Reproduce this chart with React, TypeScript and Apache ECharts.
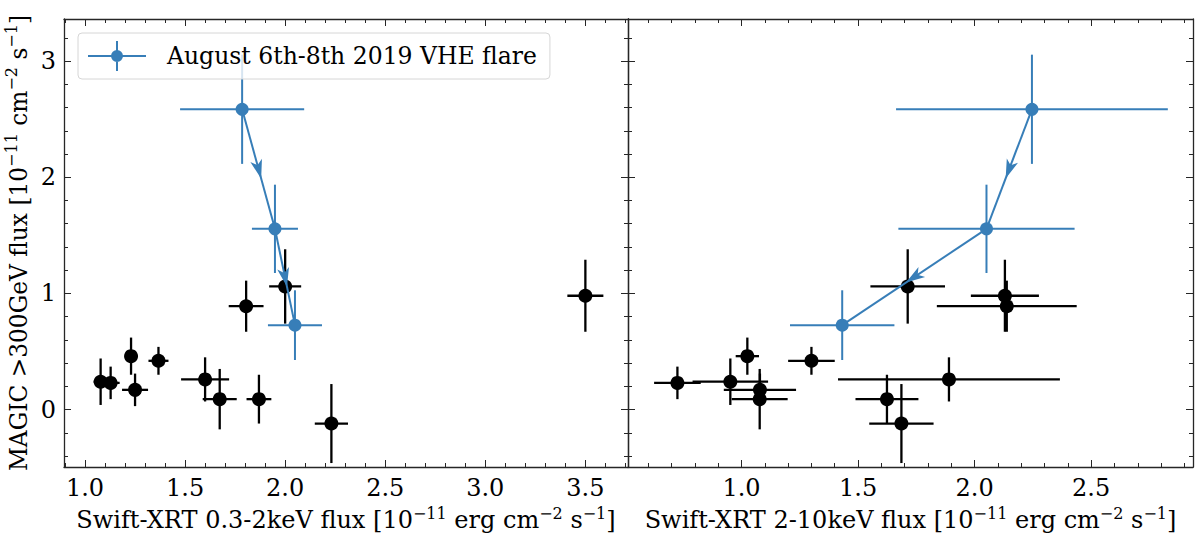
import React, { useEffect, useRef } from 'react';
import * as echarts from 'echarts';

const BLUE = '#377eb8';
const BLACK = '#000000';
const FRAME = '#262626';
const FONT = '"DejaVu Serif", "Liberation Serif", serif';
const FLARE = 'August 6th-8th 2019 VHE flare';

// MAGIC >300GeV flux (shared y of both panels) and its error
const magicFlux = [0.24, 0.23, 0.46, 0.17, 0.42, 0.26, 0.09, 0.89, 0.09, 1.06, -0.12, 0.98];
const magicErr = [0.2, 0.14, 0.16, 0.14, 0.12, 0.19, 0.26, 0.22, 0.21, 0.32, 0.34, 0.31];
// Swift-XRT 0.3-2keV flux
const softFlux = [1.078, 1.128, 1.23, 1.25, 1.367, 1.6, 1.673, 1.805, 1.869, 2.0, 2.231, 3.5];
const softErr = [0.035, 0.045, 0.03, 0.065, 0.05, 0.12, 0.085, 0.087, 0.062, 0.08, 0.083, 0.09];
// Swift-XRT 2-10keV flux
const hardFlux = [0.952, 0.725, 1.025, 1.079, 1.3, 1.89, 1.078, 2.138, 1.624, 1.713, 1.686, 2.13];
const hardErr = [0.162, 0.1, 0.05, 0.155, 0.1, 0.476, 0.12, 0.3, 0.135, 0.16, 0.138, 0.146];

// flare nights, in time order
const flareFlux = [2.585, 1.556, 0.727];
const flareErr = [0.47, 0.38, 0.3];
const flareSoft = [1.785, 1.949, 2.049];
const flareSoftErr = [0.31, 0.115, 0.135];
const flareHard = [2.246, 2.051, 1.432];
const flareHardErr = [0.583, 0.378, 0.224];

// axes
const softRange = [0.895, 3.713];
const hardRange = [0.513, 2.937];
const fluxRange = [-0.494, 3.362];
const softTicks = [1.0, 1.5, 2.0, 2.5, 3.0, 3.5];
const hardTicks = [1.0, 1.5, 2.0, 2.5];
const fluxTicks = [0, 1, 2, 3];

const softTitle = '{t|Swift-XRT 0.3-2keV flux [10}{s|−11}{t|\u00a0erg cm}{s|−2}{t|\u00a0s}{s|−1}{t|]}';
const hardTitle = '{t|Swift-XRT 2-10keV flux [10}{s|−11}{t|\u00a0erg cm}{s|−2}{t|\u00a0s}{s|−1}{t|]}';
const fluxTitle = '{t|MAGIC >300GeV flux [10}{s|−11}{t|\u00a0cm}{s|−2}{t|\u00a0s}{s|−1}{t|]}';

const richOf = (size: number) => ({
  t: { fontFamily: FONT, fontSize: size, color: BLACK, lineHeight: size + 6 },
  s: { fontFamily: FONT, fontSize: Math.round(size * 0.67), color: BLACK, lineHeight: Math.round(size * 0.67), verticalAlign: 'top' },
});

const LEGEND_ICON = 'path://M0,14H58V16H0Z M28,0H30V30H28Z M23,15A6,6,0,1,1,35,15A6,6,0,1,1,23,15Z';

function minorsOf(range: number[], step: number, majors: number[]) {
  const out: number[] = [];
  for (let k = Math.ceil(range[0] / step - 1e-9); k * step <= range[1] + 1e-9; k++) {
    const v = +(k * step).toFixed(3);
    if (!majors.some((m) => Math.abs(m - v) < 1e-6)) out.push(v);
  }
  return out;
}

function axisSet(dim: 'x' | 'y', grid: number, range: number[], majors: number[], minors: number[], labels: boolean, title: string | null, fmt: (v: number) => string) {
  const sides = dim === 'x' ? ['bottom', 'top'] : ['left', 'right'];
  const base = { type: 'value', gridIndex: grid, min: range[0], max: range[1], splitLine: { show: false } };
  const axes: any[] = [];
  sides.forEach((pos, si) => {
    axes.push({
      ...base,
      position: pos,
      axisLine: { show: true, onZero: false, lineStyle: { color: FRAME, width: 1.3 } },
      axisTick: { show: true, inside: true, length: 7, customValues: majors, lineStyle: { color: FRAME, width: 1 } },
      axisLabel: labels && si === 0
        ? { show: true, customValues: majors, formatter: fmt, margin: dim === 'x' ? 9 : 8, fontFamily: FONT, fontSize: 24, color: BLACK }
        : { show: false },
      ...(title && si === 0
        ? {
            name: title,
            nameLocation: 'middle',
            nameGap: dim === 'x' ? 38 : 31,
            nameRotate: dim === 'y' ? 90 : 0,
            nameTextStyle: { rich: richOf(dim === 'x' ? 24 : 23.3) },
          }
        : {}),
    });
    axes.push({
      ...base,
      position: pos,
      axisLine: { show: false, onZero: false },
      axisTick: { show: true, inside: true, length: 4, customValues: minors, lineStyle: { color: FRAME, width: 1 } },
      axisLabel: { show: false },
    });
  });
  return axes;
}

function errorBars(color: string, width: number, radius: number) {
  return (params: any, api: any) => {
    const x = api.value(0);
    const y = api.value(1);
    const ex = api.value(2);
    const ey = api.value(3);
    const c = api.coord([x, y]);
    const l = api.coord([x - ex, y]);
    const r = api.coord([x + ex, y]);
    const t = api.coord([x, y + ey]);
    const b = api.coord([x, y - ey]);
    const style = { stroke: color, lineWidth: width };
    return {
      type: 'group',
      children: [
        { type: 'line', shape: { x1: l[0], y1: l[1], x2: r[0], y2: r[1] }, style },
        { type: 'line', shape: { x1: t[0], y1: t[1], x2: b[0], y2: b[1] }, style },
        { type: 'circle', shape: { cx: c[0], cy: c[1], r: radius }, style: { fill: color } },
      ],
    };
  };
}

function arrowPath(xs: number[], ys: number[]) {
  return (params: any, api: any) => {
    const i = params.dataIndex;
    if (i >= xs.length - 1) return null;
    const p1 = api.coord([xs[i], ys[i]]);
    const p2 = api.coord([xs[i + 1], ys[i + 1]]);
    const dx = p2[0] - p1[0];
    const dy = p2[1] - p1[1];
    const len = Math.hypot(dx, dy);
    const ux = dx / len;
    const uy = dy / len;
    const px = -uy;
    const py = ux;
    const mx = (p1[0] + p2[0]) / 2;
    const my = (p1[1] + p2[1]) / 2;
    const tip = [mx + ux * 10, my + uy * 10];
    const back = [tip[0] - ux * 19, tip[1] - uy * 19];
    const notch = [tip[0] - ux * 14, tip[1] - uy * 14];
    return {
      type: 'group',
      children: [
        { type: 'line', shape: { x1: p1[0], y1: p1[1], x2: p2[0], y2: p2[1] }, style: { stroke: BLUE, lineWidth: 2 } },
        {
          type: 'polygon',
          shape: {
            points: [tip, [back[0] + px * 6, back[1] + py * 6], notch, [back[0] - px * 6, back[1] - py * 6]],
          },
          style: { fill: BLUE },
        },
      ],
    };
  };
}

export default function App() {
  const ref = useRef<HTMLDivElement | null>(null);

  useEffect(() => {
    document.body.style.margin = '0';
    if (!ref.current) return;
    const chart = echarts.init(ref.current, undefined, { renderer: 'svg' });

    const gridTop = 19;
    const gridBottom = 76;
    const xAxes = [
      ...axisSet('x', 0, softRange, softTicks, minorsOf(softRange, 0.1, softTicks), true, softTitle, (v) => v.toFixed(1)),
      ...axisSet('x', 1, hardRange, hardTicks, minorsOf(hardRange, 0.1, hardTicks), true, hardTitle, (v) => v.toFixed(1)),
    ];
    const yAxes = [
      ...axisSet('y', 0, fluxRange, fluxTicks, minorsOf(fluxRange, 0.2, fluxTicks), true, fluxTitle, (v) => String(v)),
      ...axisSet('y', 1, fluxRange, fluxTicks, minorsOf(fluxRange, 0.2, fluxTicks), false, null, (v) => String(v)),
    ];
    // first axis of each grid carries the data (bottom / left major axis)
    const gx = [0, 4];
    const gy = [0, 4];

    const panel = (g: number, xs: number[], xe: number[], fxs: number[], fxe: number[]) => [
      {
        type: 'custom',
        name: 'MAGIC nights',
        xAxisIndex: gx[g],
        yAxisIndex: gy[g],
        clip: false,
        encode: { x: 0, y: 1 },
        data: xs.map((x, i) => [x, magicFlux[i], xe[i], magicErr[i]]),
        renderItem: errorBars(BLACK, 2.3, 7),
        itemStyle: { color: BLACK },
        z: 2,
      },
      {
        type: 'custom',
        name: FLARE + ' path',
        xAxisIndex: gx[g],
        yAxisIndex: gy[g],
        clip: false,
        encode: { x: 0, y: 1 },
        data: fxs.map((x, i) => [x, flareFlux[i]]),
        renderItem: arrowPath(fxs, flareFlux),
        itemStyle: { color: BLUE },
        z: 3,
      },
      {
        type: 'custom',
        name: FLARE,
        xAxisIndex: gx[g],
        yAxisIndex: gy[g],
        clip: false,
        encode: { x: 0, y: 1 },
        data: fxs.map((x, i) => [x, flareFlux[i], fxe[i], flareErr[i]]),
        renderItem: errorBars(BLUE, 2, 6.5),
        itemStyle: { color: BLUE },
        z: 4,
      },
    ];

    chart.setOption({
      animation: false,
      backgroundColor: '#ffffff',
      grid: [
        { left: 64, right: 1200 - 628, top: gridTop, bottom: gridBottom, outerBoundsMode: 'none', containLabel: false },
        { left: 628, right: 7, top: gridTop, bottom: gridBottom, outerBoundsMode: 'none', containLabel: false },
      ],
      xAxis: xAxes,
      yAxis: yAxes,
      legend: {
        left: 78,
        top: 33,
        orient: 'horizontal',
        data: [{ name: FLARE, icon: LEGEND_ICON }],
        itemWidth: 58,
        itemHeight: 30,
        padding: [8, 13, 8, 10],
        backgroundColor: 'rgba(255,255,255,0.8)',
        borderColor: '#d6d6d6',
        borderWidth: 1,
        borderRadius: 4,
        selectedMode: false,
        textStyle: { fontFamily: FONT, fontSize: 23.5, color: BLACK, padding: [0, 0, 0, 16] },
        z: 10,
      },
      series: [
        ...panel(0, softFlux, softErr, flareSoft, flareSoftErr),
        ...panel(1, hardFlux, hardErr, flareHard, flareHardErr),
      ],
    });

    return () => {
      chart.dispose();
    };
  }, []);

  return <div ref={ref} style={{ width: 1200, height: 543 }} />;
}
